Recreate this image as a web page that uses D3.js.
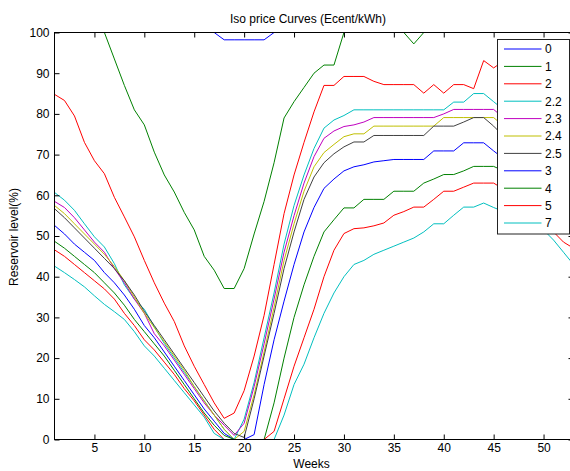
<!DOCTYPE html>
<html>
<head>
<meta charset="utf-8">
<script src="https://cdn.jsdelivr.net/npm/d3@7"></script>
<style>
  body { margin: 0; background: #fff; }
  svg { display: block; font-family: "Liberation Sans", Arial, sans-serif; }
</style>
</head>
<body>
<svg id="chart" width="570" height="471"></svg>
<script>
// Weekly reservoir levels (%) along iso-price curves, one curve per price (Ecent/kWh)
const weeks = [1,2,3,4,5,6,7,8,9,10,11,12,13,14,15,16,17,18,19,20,21,22,23,24,25,26,27,
               28,29,30,31,32,33,34,35,36,37,38,39,40,41,42,43,44,45,46,47,48,49,50,51,52,53];

const priceLabels = ["0", "1", "2", "2.2", "2.3", "2.4", "2.5", "3", "4", "5", "7"];

const level0 = [100,100,100,100,100,100,100,100,100,100,100,100,100,100,100,100,100,
                98.2,98.2,98.2,98.2,98.2,
                100,100,100,100,100,100,100,100,100,100,100,100,100,100,100,100,100,100,100,100,100,
                100,100,100,100,100,100,100,100,100,100];
const level1 = [100,100,100,100,100,100,93.5,87,81,77.3,70.6,65,60.8,55.8,51.5,45,41.6,37.1,37.1,
                42,50.5,58.5,68,79,83,86.5,90,92,92,100,100,100,100,100,100,100,97.2,100,
                100,100,100,100,100,100,100,100,100,100,100,100,100,100,100];
const level2 = [84.8,83.3,79.5,73,68.5,65.3,59.5,54.7,49.8,44,38.5,33.5,29,23,18,13.5,9,5.2,6.5,
                12,20.5,30.5,43,55.5,65,73,80.5,87,87,89.2,89.2,89.2,88,87.2,87.2,87.2,87.2,85.1,
                87.2,85.1,87.2,87.2,86.2,93.1,91.3,93,92,91,90,89,88,86.5,85];
const level22 = [60.7,58.8,56.3,53,49.8,47.3,43.2,38,34.5,32,27.7,23.6,20,16.5,13,9.5,6,2.5,0,
                 5,14,25,36,48,57.5,65,71.5,76.5,78.5,79.6,81,81,81,81,81,81,81,81,81,81,
                 82.9,82.9,85,85,83,81,79,77,74,71,68,64.5,61];
const level23 = [58.5,57,54.5,51.5,48.5,46,42,38.5,34.5,31,26,23,19.5,16,12.5,9,6,3.5,1,
                 4,13,23.5,34.5,46,55,63,69.5,74,75.8,76.9,77.3,78,79.1,79.1,79.1,79.1,79.1,79.1,79.1,
                 80,81.1,81.1,81.1,81.1,81.1,79,77,74.5,72,69,66,62.5,59];
const level24 = [57.5,55.5,53,50.5,48,45.5,42.5,39,35,31,27.5,24,20.5,17,13,9.5,6,2.5,0,
                 2,11,21.5,32.5,44,53,61,67,70.5,72.5,74.4,75.1,75.1,77,77,77,77,77,77,77,
                 79.1,79.1,79.1,79.1,79.1,79.1,77,74.5,72,69,66,63,60,57.5];
const level25 = [56.7,54.5,52,49.5,47,44.5,42,39,35.5,31.5,28,24.5,21,17.5,14,10.5,7,4,1.5,
                 0.5,10,20.5,31,42,51,59,64.5,68,70.2,71.9,73.1,73.1,74.7,74.7,74.7,74.7,74.7,74.7,
                 77,77,77,78,79.1,79.1,77,74.5,72,69.5,67,64,61.5,59,56.7];
const level3 = [52.6,50.5,48,46,44,41,38.5,35.5,32,28,25,21.5,18,14.5,11,7.5,4.5,1.5,0,
                0,1.2,13.5,24.5,34,43,51,57,61.7,64,66,67,67.5,68.2,68.5,68.8,68.8,68.8,68.8,
                70.9,70.9,70.9,72.9,72.9,72.9,70.9,69,67,64.5,62,59.5,57,55,53];
const level4 = [48.7,47,45,43,41,38.5,36,33,29.5,26.5,23.5,20.5,17,13.5,10,6.5,3.5,1,0,
                0,0,0,9,20,30,38,45,51,54,56.9,56.9,59,59,59,61,61,61,63,64,65.1,65.1,66,
                67.1,67.1,67.1,66,64.5,63,61,59,56.5,53.5,51];
const level5 = [46.6,45,43,41,39,37,34.5,31,28,24.5,22,19,16,12.5,9.5,6,2.5,0,0,
                0,0,0,2,10,18,25,32,40,46.5,50.6,51.8,52,52.5,53.2,55.1,56,57.1,57.1,59,61,61,
                62,63,63,63,61.5,60,58,56,54,51,48.5,47];
const level7 = [42.6,41,39.3,37.5,35.3,33.2,31.4,29.5,26.5,23,20.5,17.5,14.5,11.5,8.5,5.5,1.5,0,0,
                0,0,0,0,6,13.5,18.5,25,31,36,40,43,44,45.5,46.5,47.5,48.5,49.5,51,53,53,55.1,
                57.1,57.1,58.1,57,56,55,54,53,51.5,49,46,43];

const xTickValues = [5, 10, 15, 20, 25, 30, 35, 40, 45, 50];
const yTickValues = [0, 10, 20, 30, 40, 50, 60, 70, 80, 90, 100];

const levels = [level0, level1, level2, level22, level23, level24, level25, level3, level4, level5, level7];
// classic plot colour order, cycling after seven lines
const lineColors = ["#0000ff", "#008000", "#ff0000", "#00bfbf", "#bf00bf", "#bfbf00", "#404040",
                    "#0000ff", "#008000", "#ff0000", "#00bfbf"];

const svg = d3.select("#chart");
const plotLeft = 54.5, plotRight = 573.5, plotTop = 32.5, plotBottom = 439.5;

const x = d3.scaleLinear().domain([1, 53]).range([plotLeft, plotRight]);
const y = d3.scaleLinear().domain([0, 100]).range([plotBottom, plotTop]);

svg.append("defs").append("clipPath").attr("id", "plotArea")
  .append("rect").attr("x", plotLeft).attr("y", plotTop)
  .attr("width", plotRight - plotLeft).attr("height", plotBottom - plotTop);

const line = d3.line().x((d, i) => x(weeks[i])).y(d => y(d));

const curves = svg.append("g").attr("clip-path", "url(#plotArea)");
levels.forEach((vals, k) => {
  curves.append("path")
    .attr("d", line(vals))
    .attr("fill", "none")
    .attr("stroke", lineColors[k])
    .attr("stroke-width", 1);
});

// axes with inward ticks on all four sides
const axisColor = "#000";
function styleAxis(g) {
  g.select(".domain").remove();
  g.attr("font-family", null);
  g.selectAll(".tick line").attr("stroke", axisColor);
  g.selectAll(".tick text").attr("fill", "#000").attr("font-size", 12);
}

svg.append("g").attr("transform", `translate(0,${plotBottom})`)
  .call(d3.axisBottom(x).tickValues(xTickValues).tickSize(-5).tickPadding(4))
  .call(styleAxis);
svg.append("g").attr("transform", `translate(0,${plotTop})`)
  .call(d3.axisTop(x).tickValues(xTickValues).tickSize(-5).tickFormat(""))
  .call(styleAxis);
svg.append("g").attr("transform", `translate(${plotLeft},0)`)
  .call(d3.axisLeft(y).tickValues(yTickValues).tickSize(-5).tickPadding(5))
  .call(styleAxis);
svg.append("g").attr("transform", `translate(${plotRight},0)`)
  .call(d3.axisRight(y).tickValues(yTickValues).tickSize(-5).tickFormat(""))
  .call(styleAxis);

svg.append("rect")
  .attr("x", plotLeft).attr("y", plotTop)
  .attr("width", plotRight - plotLeft).attr("height", plotBottom - plotTop)
  .attr("fill", "none").attr("stroke", axisColor).attr("stroke-width", 1);

// titles
svg.append("text").attr("x", 308).attr("y", 22.5).attr("text-anchor", "middle")
  .attr("font-size", 12).text("Iso price Curves (Ecent/kWh)");
svg.append("text").attr("x", 311.5).attr("y", 468).attr("text-anchor", "middle")
  .attr("font-size", 12).text("Weeks");
svg.append("text").attr("transform", "translate(18,237) rotate(-90)")
  .attr("text-anchor", "middle").attr("font-size", 12).text("Reservoir level(%)");

// legend
const legend = svg.append("g");
legend.append("rect")
  .attr("x", 497.5).attr("y", 39.5).attr("width", 72).attr("height", 194.5)
  .attr("fill", "#fff").attr("stroke", "#222").attr("stroke-width", 1);
priceLabels.forEach((lab, k) => {
  const cy = 49 + k * 17.4;
  legend.append("line")
    .attr("x1", 504).attr("x2", 541.5).attr("y1", cy).attr("y2", cy)
    .attr("stroke", lineColors[k]).attr("stroke-width", 1);
  legend.append("text")
    .attr("x", 545).attr("y", cy).attr("dy", "0.36em")
    .attr("font-size", 12).text(lab);
});
</script>
</body>
</html>
